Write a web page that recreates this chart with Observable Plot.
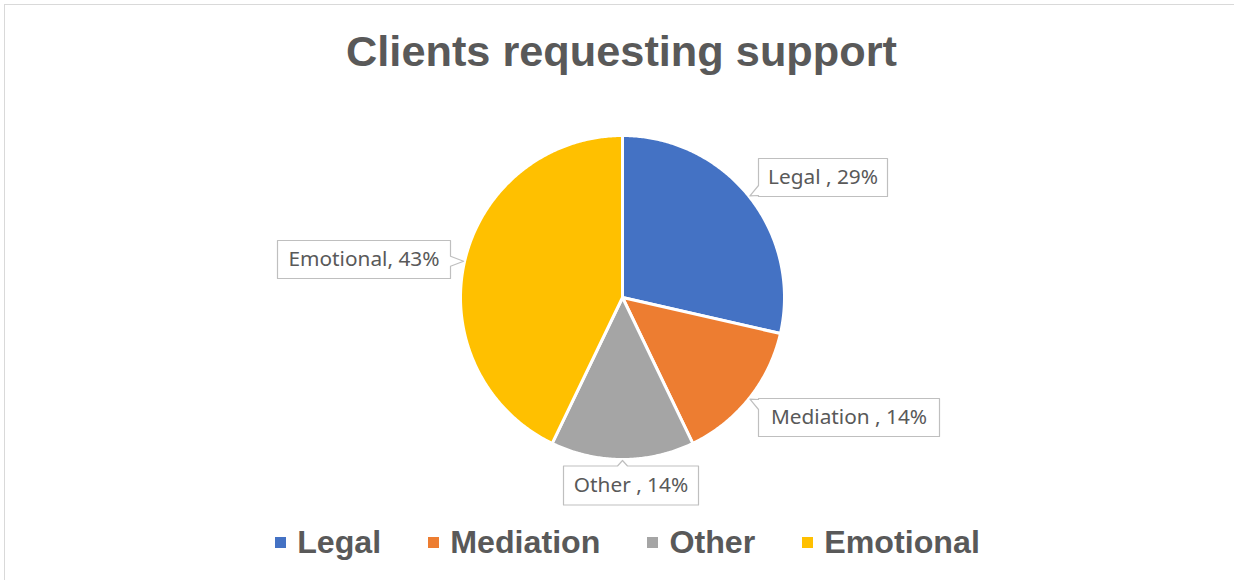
<!DOCTYPE html>
<html>
<head>
<meta charset="utf-8">
<script src="https://cdn.jsdelivr.net/npm/d3@7"></script>
<script src="https://cdn.jsdelivr.net/npm/@observablehq/plot@0.6"></script>
<style>
  html, body { margin: 0; padding: 0; background: #fff; }
  #wrap { position: relative; width: 1234px; height: 580px; overflow: hidden; background: #fff; }
  #frame { position: absolute; left: 4px; top: 4px; width: 1400px; height: 800px;
           border-left: 1.5px solid #d9d9d9; border-top: 1.5px solid #d9d9d9; z-index: 5; pointer-events: none; }
  #title { height: 95px; box-sizing: border-box; padding-top: 30px; padding-left: 9px; text-align: center;
           font: bold 43.3px/43px "Liberation Sans", Arial, sans-serif; color: #595959; white-space: nowrap; }
  #chart svg { display: block; background: transparent; }
  #legend { height: 64px; display: flex; align-items: center; justify-content: center; padding-left: 21px; box-sizing: border-box;
            font: bold 32.2px "Liberation Sans", Arial, sans-serif; color: #595959; }
  .item { display: flex; align-items: center; margin: 0 23.5px; }
  .sw { width: 11px; height: 11px; margin-right: 11px; }
</style>
</head>
<body>
<div id="wrap">
  <div id="frame"></div>
  <div id="title">Clients requesting support</div>
  <div id="chart"></div>
  <div id="legend"></div>
</div>
<script>
// ---- data ----
const categories = ["Legal ", "Mediation ", "Other ", "Emotional"];
const clients = [2, 1, 1, 3];
const sliceColors = ["#4472C4", "#ED7D31", "#A5A5A5", "#FFC000"];

// ---- layout (pixels, relative to pie centre) ----
const W = 1234, H = 415, R = 162, cx = 622, cy = 202;
const labelLayout = {
  "Legal ":     {dx: 200.5, dy: -120, w: 129, h: 38},
  "Mediation ": {dx: 226.5, dy: 120,  w: 181, h: 38},
  "Other ":     {dx: 8.5,   dy: 188,  w: 135, h: 39},
  "Emotional":  {dx: -258.5, dy: -38, w: 173, h: 38}
};

const rows = categories.map((c, i) => ({cat: c, value: clients[i]}));
const total = d3.sum(clients);
const arcs = d3.pie().sort(null).value(d => d.value)(rows);

// slice outlines in unit-circle coordinates (y up)
const slicePts = arcs.flatMap(a => {
  const n = Math.max(2, Math.ceil((a.endAngle - a.startAngle) / (Math.PI / 360)));
  const pts = [{cat: a.data.cat, x: 0, y: 0}];
  for (let k = 0; k <= n; k++) {
    const t = a.startAngle + (a.endAngle - a.startAngle) * k / n;
    pts.push({cat: a.data.cat, x: Math.sin(t), y: Math.cos(t)});
  }
  pts.push({cat: a.data.cat, x: 0, y: 0});
  return pts;
});

// callout boxes with a tail pointing to the slice middle
const clamp = (v, lo, hi) => Math.max(lo, Math.min(hi, v));
const calloutPts = arcs.flatMap(a => {
  const L = labelLayout[a.data.cat];
  const mid = (a.startAngle + a.endAngle) / 2;
  const tip = [Math.sin(mid) * (R + 1), -Math.cos(mid) * (R + 1)];
  const x0 = L.dx - L.w / 2, x1 = L.dx + L.w / 2, y0 = L.dy - L.h / 2, y1 = L.dy + L.h / 2;
  const b = 5;
  let poly;
  if (tip[0] < x0) {
    const c = clamp(tip[1], y0 + b + 1, y1 - b - 1);
    poly = [[x0, y0], [x1, y0], [x1, y1], [x0, y1], [x0, c + b], tip, [x0, c - b], [x0, y0]];
  } else if (tip[0] > x1) {
    const c = clamp(tip[1], y0 + b + 1, y1 - b - 1);
    poly = [[x0, y0], [x1, y0], [x1, c - b], tip, [x1, c + b], [x1, y1], [x0, y1], [x0, y0]];
  } else if (tip[1] < y0) {
    const c = clamp(tip[0], x0 + b + 1, x1 - b - 1);
    poly = [[x0, y0], [c - b, y0], tip, [c + b, y0], [x1, y0], [x1, y1], [x0, y1], [x0, y0]];
  } else {
    const c = clamp(tip[0], x0 + b + 1, x1 - b - 1);
    poly = [[x0, y0], [x1, y0], [x1, y1], [c + b, y1], tip, [c - b, y1], [x0, y1], [x0, y0]];
  }
  return poly.map(([px, py]) => ({cat: a.data.cat, x: px / R, y: -py / R}));
});

const labelRows = arcs.map(a => {
  const L = labelLayout[a.data.cat];
  return {cat: a.data.cat, x: L.dx / R, y: -L.dy / R,
          text: a.data.cat + ", " + Math.round(a.data.value / total * 100) + "%"};
});

const plot = Plot.plot({
  width: W, height: H,
  style: {background: "transparent", overflow: "visible"},
  x: {domain: [-1, 1], range: [cx - R, cx + R], axis: null},
  y: {domain: [-1, 1], range: [cy + R, cy - R], axis: null},
  color: {domain: categories, range: sliceColors},
  marks: [
    Plot.line(slicePts, {x: "x", y: "y", z: "cat", fill: "cat", stroke: "white", strokeWidth: 3, curve: "linear", strokeLinejoin: "round"}),
    Plot.line(calloutPts, {x: "x", y: "y", z: "cat", fill: "white", stroke: "#bfbfbf", strokeWidth: 1.2, curve: "linear"}),
    Plot.text(labelRows, {x: "x", y: "y", text: "text", fill: "#595959", fontSize: 20.8, fontFamily: "'Noto Sans', sans-serif"})
  ]
});
document.getElementById("chart").appendChild(plot);

// legend
const legend = document.getElementById("legend");
categories.forEach((c, i) => {
  const item = document.createElement("div");
  item.className = "item";
  const sw = document.createElement("span");
  sw.className = "sw";
  sw.style.background = sliceColors[i];
  const lab = document.createElement("span");
  lab.textContent = c.trim();
  item.appendChild(sw);
  item.appendChild(lab);
  legend.appendChild(item);
});
</script>
</body>
</html>
